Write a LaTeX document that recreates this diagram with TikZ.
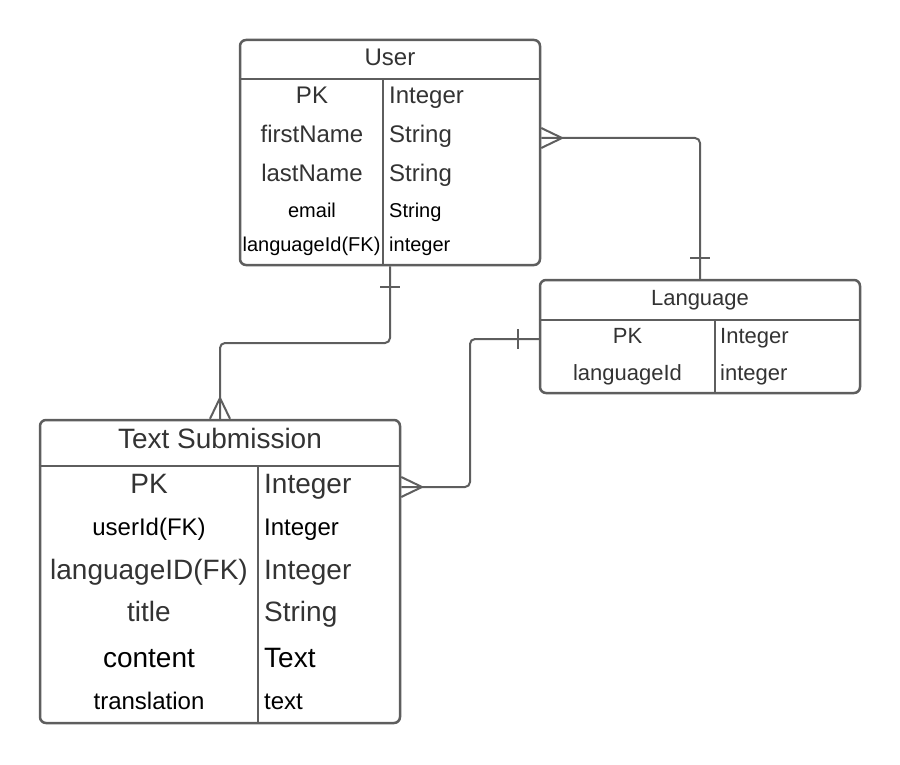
\documentclass[tikz,border=0pt]{standalone}
\usepackage{fontspec}
\setmainfont{Liberation Sans}
\definecolor{ln}{HTML}{5E5E5E}
\definecolor{tx}{HTML}{333333}
\begin{document}
\begin{tikzpicture}[x=1pt,y=-1pt,
 tbl/.style={draw=ln, line width=2.5pt, rounded corners=6pt, inner sep=0pt},
 sepline/.style={draw=ln, line width=2.5pt},
 conn/.style={draw=ln, line width=2pt, rounded corners=5pt},
 crow/.style={draw=ln, line width=2pt},
 lc/.style={anchor=base, inner sep=0pt},
 rc/.style={anchor=base west, inner sep=0pt},
 fa/.style={font=\fontsize{20}{24}\selectfont},
 fb/.style={font=\fontsize{22}{26}\selectfont},
 fc/.style={font=\fontsize{24}{28}\selectfont},
 fd/.style={font=\fontsize{28}{32}\selectfont},
 g/.style={text=tx},
 k/.style={text=black}
]
\useasboundingbox (0,0) rectangle (900,765);
% tables
\node[tbl, minimum width=300pt, minimum height=225pt] (user) at (390,152.5) {};
\draw[sepline] (user.west |- 0,79) -- (user.east |- 0,79);
\draw[sepline] (383,79) -- (user.south -| 383,0);

\node[tbl, minimum width=320pt, minimum height=113pt] (lang) at (700,336.5) {};
\draw[sepline] (lang.west |- 0,320) -- (lang.east |- 0,320);
\draw[sepline] (715,320) -- (lang.south -| 715,0);

\node[tbl, minimum width=360pt, minimum height=303pt] (ts) at (220,571.5) {};
\draw[sepline] (ts.west |- 0,466) -- (ts.east |- 0,466);
\draw[sepline] (258,466) -- (ts.south -| 258,0);

% User texts
\node[lc, fc, g] (ut) at (390,65.5) {User};
\node[lc, fc, g] (u1a) at (312,104) {PK};
\node[rc, fc, g] (u1b) at (389,104) {Integer};
\node[lc, fc, g] (u2a) at (312,143) {firstName};
\node[rc, fc, g] (u2b) at (389,143) {String};
\node[lc, fc, g] (u3a) at (312,181.5) {lastName};
\node[rc, fc, g] (u3b) at (389,181.5) {String};
\node[lc, fa, k] (u4a) at (312,218) {email};
\node[rc, fa, k] (u4b) at (389,218) {String};
\node[lc, fa, k] (u5a) at (311.5,251.5) {languageId(FK)};
\node[rc, fa, k] (u5b) at (389,251.5) {integer};

% Language texts
\node[lc, fb, g] (lt) at (700,305) {Language};
\node[lc, fb, g] (l1a) at (627.5,343) {PK};
\node[rc, fb, g] (l1b) at (720,343) {Integer};
\node[lc, fb, g] (l2a) at (627.5,380) {languageId};
\node[rc, fb, g] (l2b) at (720,380) {integer};

% Text Submission texts
\node[lc, fd, g] (tt) at (220,448) {Text Submission};
\node[lc, fd, g] (t1a) at (149,493) {PK};
\node[rc, fd, g] (t1b) at (264,493) {Integer};
\node[lc, fc, k] (t2a) at (149,535) {userId(FK)};
\node[rc, fc, k] (t2b) at (264,535) {Integer};
\node[lc, fd, g] (t3a) at (149,579) {languageID(FK)};
\node[rc, fd, g] (t3b) at (264,579) {Integer};
\node[lc, fd, g] (t4a) at (149,621.5) {title};
\node[rc, fd, g] (t4b) at (264,621.5) {String};
\node[lc, fd, k] (t5a) at (149,667.5) {content};
\node[rc, fd, k] (t5b) at (264,667.5) {Text};
\node[lc, fc, k] (t6a) at (149,709) {translation};
\node[rc, fc, k] (t6b) at (264,709) {text};

% connectors
\draw[conn] (user.east |- 0,138) -| (lang.north);
\draw[crow] (user.east |- 0,128) -- (562,138) -- (user.east |- 0,148);
\draw[crow] (690,258) -- (710,258);

\draw[conn] (user.south) -- (user.south |- 0,343) -| (ts.north);
\draw[crow] (380,287) -- (400,287);
\draw[crow] (ts.north -| 210,0) -- (220,398) -- (ts.north -| 230,0);

\draw[conn] (lang.west |- 0,339) -- (470,339) |- (ts.east |- 0,487);
\draw[crow] (518,329) -- (518,349);
\draw[crow] (ts.east |- 0,477) -- (422,487) -- (ts.east |- 0,497);
\end{tikzpicture}
\end{document}
